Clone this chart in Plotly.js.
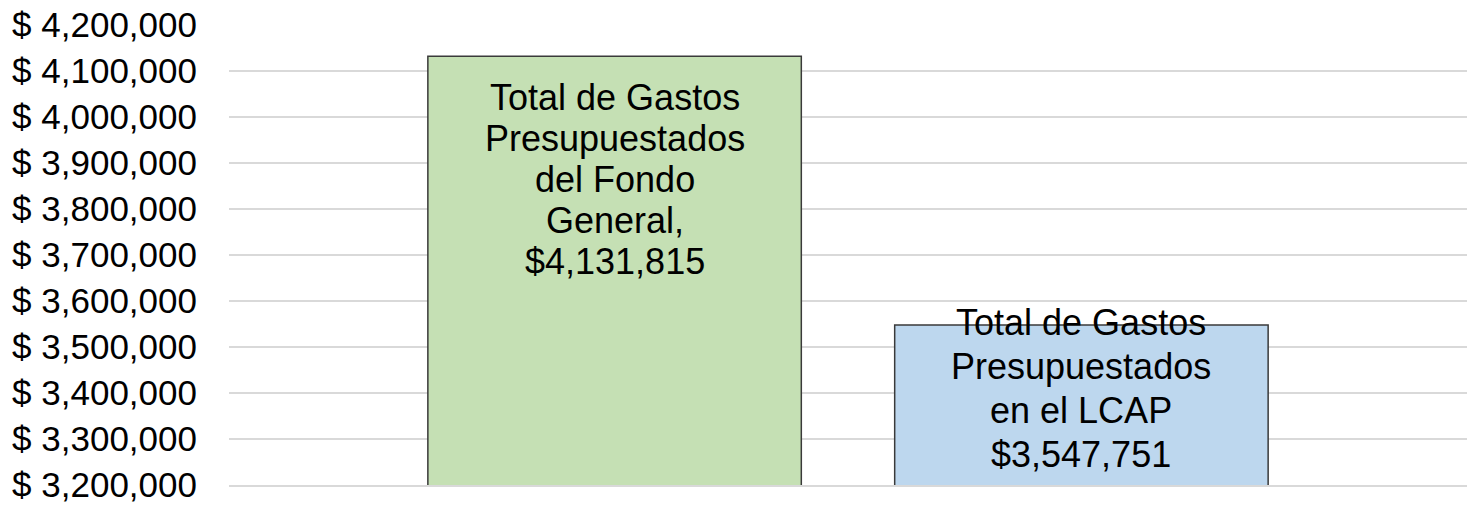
<!DOCTYPE html>
<html>
<head>
<meta charset="utf-8">
<script src="https://cdn.plot.ly/plotly-3.0.1.min.js"></script>
<style>
  html, body { margin: 0; padding: 0; background: #ffffff; }
  #chart { width: 1475px; height: 505px; }
</style>
</head>
<body>
<div id="chart"></div>
<script>
// ---- data ----
const categories = ["Fondo General", "LCAP"];
const values = [4131815, 3547751];
const barLabels = [
  "Total de Gastos<br>Presupuestados<br>del Fondo<br>General,<br>$4,131,815",
  "Total de Gastos<br>Presupuestados<br>en el LCAP<br>$3,547,751"
];
const barColors = ["#C5E0B4", "#BDD7EE"];
const tickValues = [3200000, 3300000, 3400000, 3500000, 3600000, 3700000, 3800000, 3900000, 4000000, 4100000, 4200000];
const tickLabels = ["$ 3,200,000", "$ 3,300,000", "$ 3,400,000", "$ 3,500,000", "$ 3,600,000", "$ 3,700,000", "$ 3,800,000", "$ 3,900,000", "$ 4,000,000", "$ 4,100,000", "$ 4,200,000"];

// ---- styling for labels ----
const labelLineFont = [31.5, 33.8];   // controls line spacing
const labelShift = [-19, 25];

const FONT = "'Liberation Sans', Arial, Helvetica, sans-serif";

const trace = {
  type: "bar",
  x: categories,
  y: values,
  width: 0.8,
  marker: { color: barColors, line: { color: "#3a3a3a", width: 1.5 } },
  hoverinfo: "skip",
  showlegend: false
};

const annotations = categories.map((c, i) => ({
  x: c,
  y: values[i],
  xref: "x",
  yref: "y",
  yanchor: "top",
  xanchor: "center",
  yshift: labelShift[i],
  showarrow: false,
  align: "center",
  text: barLabels[i].split("<br>").map(s => '<span style="font-size:36px">' + s + '</span>').join("<br>"),
  font: { family: FONT, size: labelLineFont[i], color: "#000000" }
}));

const layout = {
  width: 1475,
  height: 505,
  margin: { l: 229, r: 8, t: 25, b: 20, pad: 0 },
  paper_bgcolor: "#ffffff",
  plot_bgcolor: "#ffffff",
  font: { family: FONT, color: "#000000" },
  showlegend: false,
  bargap: 0.2,
  xaxis: {
    type: "category",
    range: [-0.826, 1.826],
    showticklabels: false,
    ticks: "",
    showgrid: false,
    zeroline: false,
    showline: true,
    linecolor: "#d9d9d9",
    linewidth: 1.5
  },
  yaxis: {
    range: [3200000, 4200000],
    tickmode: "array",
    tickvals: tickValues,
    ticktext: tickLabels,
    tickfont: { family: FONT, size: 35, color: "#000000" },
    ticks: "",
    ticklabelstandoff: 31,
    showgrid: true,
    gridcolor: "#d9d9d9",
    gridwidth: 1.5,
    zeroline: false,
    showline: false
  },
  annotations: annotations
};

Plotly.newPlot("chart", [trace], layout, { displayModeBar: false, staticPlot: true });
</script>
</body>
</html>
